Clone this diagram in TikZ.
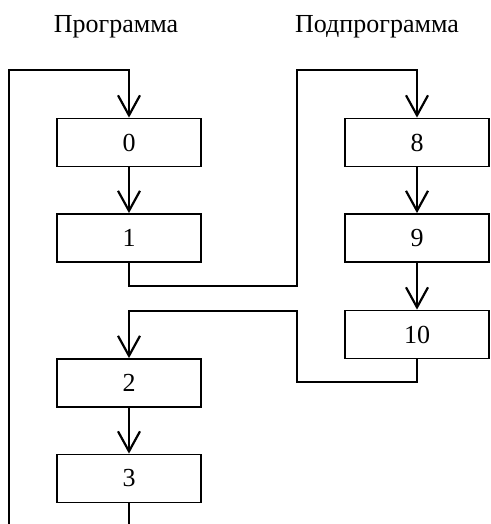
\documentclass[tikz,border=0pt]{standalone}
\usepackage{fontspec}
\setmainfont{Liberation Serif}
\usetikzlibrary{arrows.meta}
\begin{document}
\begin{tikzpicture}[x=1pt,y=-1pt,
  blk/.style={draw,line width=1.8pt,minimum width=144pt,minimum height=48pt,
    inner sep=0pt,font=\fontsize{26}{26}\selectfont},
  title/.style={anchor=base,font=\fontsize{26}{26}\selectfont},
  flow/.style={line width=2.2pt,-{Straight Barb[length=20pt,width=22pt,line width=2.2pt]}},
  wire/.style={line width=2.2pt}]
\useasboundingbox (0,0) rectangle (490,524);

% column titles
\node[title] (tmain) at (116,33) {Программа};
\node[title] (tsub)  at (377,33) {Подпрограмма};

% main program blocks
\node[blk] (b0) at (129,142.5) {0};
\node[blk] (b1) at (129,238) {1};
\node[blk] (b2) at (129,383) {2};
\node[blk] (b3) at (129,478.5) {3};

% subroutine blocks
\node[blk] (b8)  at (417,142.5) {8};
\node[blk] (b9)  at (417,238) {9};
\node[blk] (b10) at (417,334.5) {10};

% routing points
\coordinate (loopTop) at (9,70);
\coordinate (loopEnd) at (9,524);
\coordinate (tail3)   at (129,524);
\coordinate (callTop) at (297,70);
\coordinate (callBot) at (129,286);
\coordinate (retBot)  at (417,382);
\coordinate (retTop)  at (297,311);

% main flow
\draw[flow] (b0) -- (b1);
\draw[flow] (b2) -- (b3);
\draw[wire] (b3) -- (tail3);
\draw[flow] (loopEnd) -- (loopTop) -| (b0.north);

% call into the subroutine
\draw[flow] (b1.south) -- (callBot) -| (callTop) -| (b8.north);
\draw[flow] (b8) -- (b9);
\draw[flow] (b9) -- (b10);

% return to the main program
\draw[flow] (b10.south) -- (retBot) -| (retTop) -| (b2.north);
\end{tikzpicture}
\end{document}
